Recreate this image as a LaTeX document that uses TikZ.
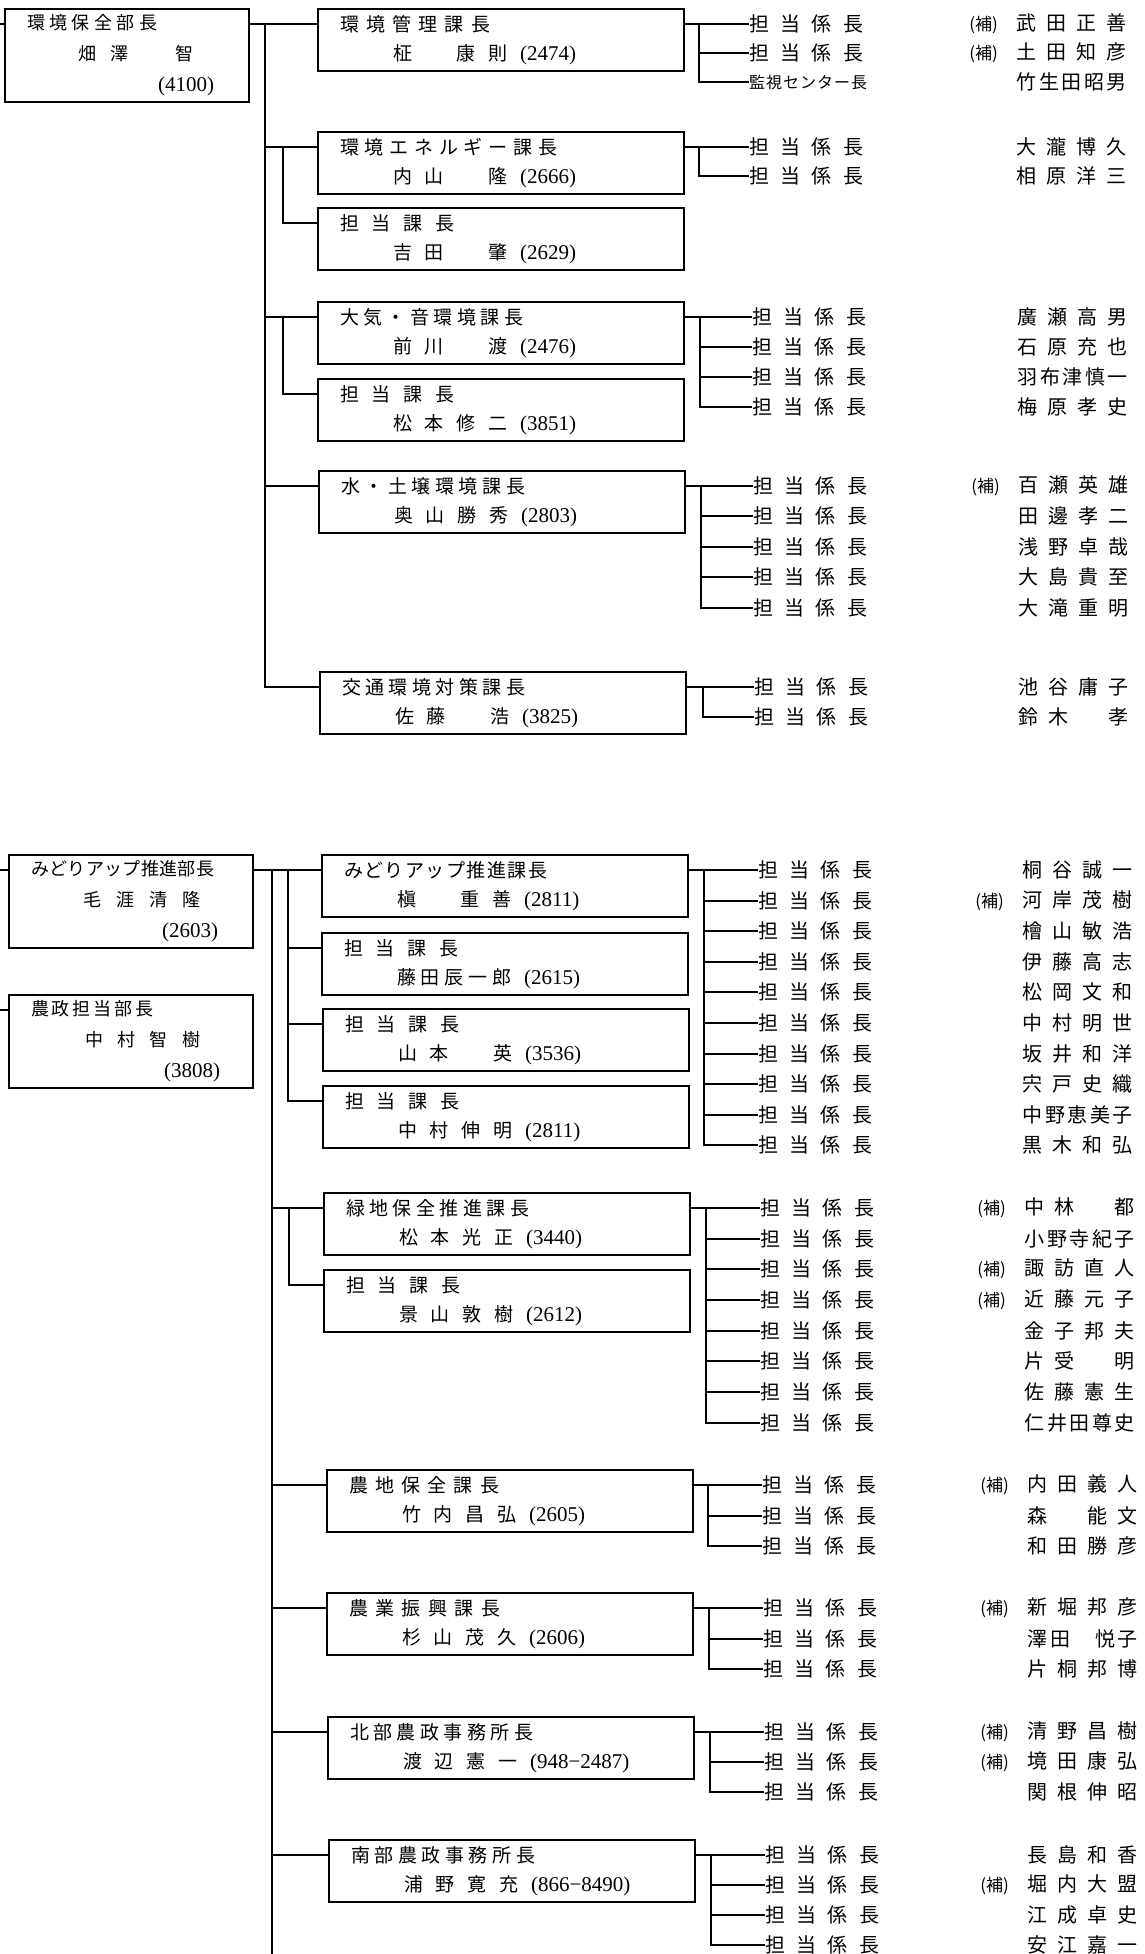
\documentclass[tikz,border=0pt]{standalone}
\usepackage{fontspec}
\setmainfont{Liberation Serif}
\newfontfamily\jp{Noto Sans CJK JP}

% spread the characters of #2 evenly over a box of width #1
\makeatletter
\def\spr@next#1{\ifx#1\relax\else\hfil#1\expandafter\spr@next\fi}
\def\spr@first#1{#1\spr@next}
\newcommand\spr[2]{\makebox[#1][s]{\spr@first#2\relax}}
\makeatother
\newcommand\tel[1]{{\rmfamily\fontsize{21}{29}\selectfont(#1)}}
\newcommand\ho{{\fontsize{17}{17}\selectfont(補)}\hspace{19pt}}
\newcommand\tanto{\spr{114pt}{担当係長}}
\newcommand\mei[1]{\spr{110pt}{#1}}

\tikzset{
  bucho/.style={draw, line width=2.2pt, anchor=north west, minimum width=244pt, minimum height=93pt, text width=200pt, inner xsep=22pt, inner ysep=0pt, align=left, font=\jp\fontsize{18}{31}\selectfont},
  kacho/.style={draw, line width=2.2pt, anchor=north west, minimum width=366pt, minimum height=62pt, text width=322pt, inner xsep=22pt, inner ysep=0pt, align=left, font=\jp\fontsize{19}{29}\selectfont},
  kakari/.style={anchor=west, inner sep=0pt, font=\jp\fontsize{20}{20}\selectfont},
  meibo/.style={anchor=east, inner sep=0pt, font=\jp\fontsize{20}{20}\selectfont},
  wire/.style={line width=1.8pt}
}

\begin{document}
\begin{tikzpicture}[x=1pt, y=-1pt]
  \useasboundingbox (0,0) rectangle (1144,1954);

  %% 環境保全部
  \node[bucho] (hozen) at (4,8) {\spr{130pt}{環境保全部長}\\\hspace*{51pt}\spr{115pt}{畑澤　智}\\\hspace*{131pt}\tel{4100}};
  \draw[wire] ([yshift=-16pt]hozen.north west) -- ++(-12,0);

  \node[kacho] (kanri) at (317,8) {\spr{150pt}{環境管理課長}\\\hspace*{53pt}\spr{114pt}{柾　康則}\hspace{13pt}\tel{2474}};
  \node[kacho] (ene) at (317,131) {\spr{217pt}{環境エネルギー課長}\\\hspace*{53pt}\spr{114pt}{内山　隆}\hspace{13pt}\tel{2666}};
  \node[kacho] (yoshida) at (317,207) {\spr{114pt}{担当課長}\\\hspace*{53pt}\spr{114pt}{吉田　肇}\hspace{13pt}\tel{2629}};
  \node[kacho] (taiki) at (317,301) {\spr{183pt}{大気・音環境課長}\\\hspace*{53pt}\spr{114pt}{前川　渡}\hspace{13pt}\tel{2476}};
  \node[kacho] (matsumoto) at (317,378) {\spr{114pt}{担当課長}\\\hspace*{53pt}\spr{114pt}{松本修二}\hspace{13pt}\tel{3851}};
  \node[kacho] (mizu) at (318,470) {\spr{184pt}{水・土壌環境課長}\\\hspace*{53pt}\spr{114pt}{奥山勝秀}\hspace{13pt}\tel{2803}};
  \node[kacho] (kotsu) at (319,671) {\spr{183pt}{交通環境対策課長}\\\hspace*{53pt}\spr{114pt}{佐藤　浩}\hspace{13pt}\tel{3825}};

  %% trunk and branches
  \coordinate (t1) at (265,24);
  \coordinate (s1) at (283,147);
  \coordinate (s2) at (283,317);
  \draw[wire] ([yshift=-16pt]hozen.north east) -- ([yshift=-16pt]kanri.north west);
  \draw[wire] ([yshift=-16pt]ene.north west) -| (t1);
  \draw[wire] ([yshift=-16pt]yoshida.north west) -| (s1);
  \draw[wire] ([yshift=-16pt]taiki.north west) -| (t1);
  \draw[wire] ([yshift=-16pt]matsumoto.north west) -| (s2);
  \draw[wire] ([yshift=-16pt]mizu.north west) -| (t1);
  \draw[wire] ([yshift=-16pt]kotsu.north west) -| (t1);

  %% 環境管理課
  \node[kakari] (kanri-1) at (749,24) {\tanto};
  \node[kakari] (kanri-2) at (749,53) {\tanto};
  \node[kakari] (kanri-3) at (749,82) {\fontsize{16}{16}\selectfont\spr{118pt}{監視センター長}};
  \node[meibo] (kanri-1n) at (1127,24) {\ho\mei{武田正善}};
  \node[meibo] (kanri-2n) at (1127,53) {\ho\mei{土田知彦}};
  \node[meibo] (kanri-3n) at (1127,82) {\mei{竹生田昭男}};
  \coordinate (kanri-v) at (699,24);
  \draw[wire] ([yshift=-16pt]kanri.north east) -- (kanri-1.west);
  \draw[wire] (kanri-v) |- (kanri-2.west);
  \draw[wire] (kanri-v) |- (kanri-3.west);

  %% 環境エネルギー課
  \node[kakari] (ene-1) at (749,147) {\tanto};
  \node[kakari] (ene-2) at (749,176) {\tanto};
  \node[meibo] (ene-1n) at (1127,147) {\mei{大瀧博久}};
  \node[meibo] (ene-2n) at (1127,176) {\mei{相原洋三}};
  \coordinate (ene-v) at (699,147);
  \draw[wire] ([yshift=-16pt]ene.north east) -- (ene-1.west);
  \draw[wire] (ene-v) |- (ene-2.west);

  %% 大気・音環境課
  \node[kakari] (taiki-1) at (752,317) {\tanto};
  \node[kakari] (taiki-2) at (752,347) {\tanto};
  \node[kakari] (taiki-3) at (752,377) {\tanto};
  \node[kakari] (taiki-4) at (752,407) {\tanto};
  \node[meibo] (taiki-1n) at (1128,317) {\mei{廣瀬高男}};
  \node[meibo] (taiki-2n) at (1128,347) {\mei{石原充也}};
  \node[meibo] (taiki-3n) at (1128,377) {\mei{羽布津慎一}};
  \node[meibo] (taiki-4n) at (1128,407) {\mei{梅原孝史}};
  \coordinate (taiki-v) at (700,317);
  \draw[wire] ([yshift=-16pt]taiki.north east) -- (taiki-1.west);
  \draw[wire] (taiki-v) |- (taiki-2.west);
  \draw[wire] (taiki-v) |- (taiki-3.west);
  \draw[wire] (taiki-v) |- (taiki-4.west);

  %% 水・土壌環境課
  \node[kakari] (mizu-1) at (753,486) {\tanto};
  \node[kakari] (mizu-2) at (753,516) {\tanto};
  \node[kakari] (mizu-3) at (753,547) {\tanto};
  \node[kakari] (mizu-4) at (753,577) {\tanto};
  \node[kakari] (mizu-5) at (753,608) {\tanto};
  \node[meibo] (mizu-1n) at (1129,486) {\ho\mei{百瀬英雄}};
  \node[meibo] (mizu-2n) at (1129,516) {\mei{田邊孝二}};
  \node[meibo] (mizu-3n) at (1129,547) {\mei{浅野卓哉}};
  \node[meibo] (mizu-4n) at (1129,577) {\mei{大島貴至}};
  \node[meibo] (mizu-5n) at (1129,608) {\mei{大滝重明}};
  \coordinate (mizu-v) at (701,486);
  \draw[wire] ([yshift=-16pt]mizu.north east) -- (mizu-1.west);
  \draw[wire] (mizu-v) |- (mizu-2.west);
  \draw[wire] (mizu-v) |- (mizu-3.west);
  \draw[wire] (mizu-v) |- (mizu-4.west);
  \draw[wire] (mizu-v) |- (mizu-5.west);

  %% 交通環境対策課
  \node[kakari] (kotsu-1) at (754,687) {\tanto};
  \node[kakari] (kotsu-2) at (754,717) {\tanto};
  \node[meibo] (kotsu-1n) at (1129,687) {\mei{池谷庸子}};
  \node[meibo] (kotsu-2n) at (1129,717) {\mei{鈴木　孝}};
  \coordinate (kotsu-v) at (703,687);
  \draw[wire] ([yshift=-16pt]kotsu.north east) -- (kotsu-1.west);
  \draw[wire] (kotsu-v) |- (kotsu-2.west);

  %% みどりアップ推進部 / 農政担当部
  \node[bucho] (midori-bu) at (8,854) {\spr{183pt}{みどりアップ推進部長}\\\hspace*{52pt}\spr{117pt}{毛涯清隆}\\\hspace*{131pt}\tel{2603}};
  \node[bucho] (nosei-bu) at (8,994) {\spr{122pt}{農政担当部長}\\\hspace*{54pt}\spr{115pt}{中村智樹}\\\hspace*{133pt}\tel{3808}};
  \draw[wire] ([yshift=-16pt]midori-bu.north west) -- ++(-12,0);
  \draw[wire] ([yshift=-16pt]nosei-bu.north west) -- ++(-12,0);

  \node[kacho] (midori) at (321,854) {\spr{203pt}{みどりアップ推進課長}\\\hspace*{53pt}\spr{114pt}{槇　重善}\hspace{13pt}\tel{2811}};
  \node[kacho] (fujita) at (321,932) {\spr{114pt}{担当課長}\\\hspace*{53pt}\spr{114pt}{藤田辰一郎}\hspace{13pt}\tel{2615}};
  \node[kacho] (yamamoto) at (322,1008) {\spr{114pt}{担当課長}\\\hspace*{53pt}\spr{114pt}{山本　英}\hspace{13pt}\tel{3536}};
  \node[kacho] (nakamura) at (322,1085) {\spr{114pt}{担当課長}\\\hspace*{53pt}\spr{114pt}{中村伸明}\hspace{13pt}\tel{2811}};
  \node[kacho] (ryokuchi) at (323,1192) {\spr{183pt}{緑地保全推進課長}\\\hspace*{53pt}\spr{114pt}{松本光正}\hspace{13pt}\tel{3440}};
  \node[kacho] (kageyama) at (323,1269) {\spr{114pt}{担当課長}\\\hspace*{53pt}\spr{114pt}{景山敦樹}\hspace{13pt}\tel{2612}};
  \node[kacho] (nochi) at (326,1469) {\spr{150pt}{農地保全課長}\\\hspace*{53pt}\spr{114pt}{竹内昌弘}\hspace{13pt}\tel{2605}};
  \node[kacho] (shinko) at (326,1592) {\spr{151pt}{農業振興課長}\\\hspace*{53pt}\spr{114pt}{杉山茂久}\hspace{13pt}\tel{2606}};
  \node[kacho] (hokubu) at (327,1716) {\spr{183pt}{北部農政事務所長}\\\hspace*{53pt}\spr{114pt}{渡辺憲一}\hspace{13pt}\tel{948−2487}};
  \node[kacho] (nanbu) at (328,1839) {\spr{184pt}{南部農政事務所長}\\\hspace*{53pt}\spr{114pt}{浦野寛充}\hspace{13pt}\tel{866−8490}};

  %% trunk and branches
  \coordinate (t2) at (272,870);
  \coordinate (t2-end) at (272,1960);
  \coordinate (u1) at (288,870);
  \coordinate (u2) at (289,1208);
  \draw[wire] ([yshift=-16pt]midori-bu.north east) -- ([yshift=-16pt]midori.north west);
  \draw[wire] (t2) -- (t2-end);
  \draw[wire] ([yshift=-16pt]fujita.north west) -| (u1);
  \draw[wire] ([yshift=-16pt]yamamoto.north west) -| (u1);
  \draw[wire] ([yshift=-16pt]nakamura.north west) -| (u1);
  \draw[wire] ([yshift=-16pt]ryokuchi.north west) -| (t2);
  \draw[wire] ([yshift=-16pt]kageyama.north west) -| (u2);
  \draw[wire] ([yshift=-16pt]nochi.north west) -| (t2);
  \draw[wire] ([yshift=-16pt]shinko.north west) -| (t2);
  \draw[wire] ([yshift=-16pt]hokubu.north west) -| (t2);
  \draw[wire] ([yshift=-16pt]nanbu.north west) -| (t2);

  %% みどりアップ推進課
  \node[kakari] (midori-1) at (758,870) {\tanto};
  \node[kakari] (midori-2) at (758,901) {\tanto};
  \node[kakari] (midori-3) at (758,931) {\tanto};
  \node[kakari] (midori-4) at (758,962) {\tanto};
  \node[kakari] (midori-5) at (758,992) {\tanto};
  \node[kakari] (midori-6) at (758,1023) {\tanto};
  \node[kakari] (midori-7) at (758,1054) {\tanto};
  \node[kakari] (midori-8) at (758,1084) {\tanto};
  \node[kakari] (midori-9) at (758,1115) {\tanto};
  \node[kakari] (midori-10) at (758,1145) {\tanto};
  \node[meibo] (midori-1n) at (1133,870) {\mei{桐谷誠一}};
  \node[meibo] (midori-2n) at (1133,901) {\ho\mei{河岸茂樹}};
  \node[meibo] (midori-3n) at (1133,931) {\mei{檜山敏浩}};
  \node[meibo] (midori-4n) at (1133,962) {\mei{伊藤高志}};
  \node[meibo] (midori-5n) at (1133,992) {\mei{松岡文和}};
  \node[meibo] (midori-6n) at (1133,1023) {\mei{中村明世}};
  \node[meibo] (midori-7n) at (1133,1054) {\mei{坂井和洋}};
  \node[meibo] (midori-8n) at (1133,1084) {\mei{宍戸史織}};
  \node[meibo] (midori-9n) at (1133,1115) {\mei{中野恵美子}};
  \node[meibo] (midori-10n) at (1133,1145) {\mei{黒木和弘}};
  \coordinate (midori-v) at (704,870);
  \draw[wire] ([yshift=-16pt]midori.north east) -- (midori-1.west);
  \draw[wire] (midori-v) |- (midori-2.west);
  \draw[wire] (midori-v) |- (midori-3.west);
  \draw[wire] (midori-v) |- (midori-4.west);
  \draw[wire] (midori-v) |- (midori-5.west);
  \draw[wire] (midori-v) |- (midori-6.west);
  \draw[wire] (midori-v) |- (midori-7.west);
  \draw[wire] (midori-v) |- (midori-8.west);
  \draw[wire] (midori-v) |- (midori-9.west);
  \draw[wire] (midori-v) |- (midori-10.west);

  %% 緑地保全推進課
  \node[kakari] (ryokuchi-1) at (760,1208) {\tanto};
  \node[kakari] (ryokuchi-2) at (760,1239) {\tanto};
  \node[kakari] (ryokuchi-3) at (760,1269) {\tanto};
  \node[kakari] (ryokuchi-4) at (760,1300) {\tanto};
  \node[kakari] (ryokuchi-5) at (760,1331) {\tanto};
  \node[kakari] (ryokuchi-6) at (760,1361) {\tanto};
  \node[kakari] (ryokuchi-7) at (760,1392) {\tanto};
  \node[kakari] (ryokuchi-8) at (760,1423) {\tanto};
  \node[meibo] (ryokuchi-1n) at (1135,1208) {\ho\mei{中林　都}};
  \node[meibo] (ryokuchi-2n) at (1135,1239) {\mei{小野寺紀子}};
  \node[meibo] (ryokuchi-3n) at (1135,1269) {\ho\mei{諏訪直人}};
  \node[meibo] (ryokuchi-4n) at (1135,1300) {\ho\mei{近藤元子}};
  \node[meibo] (ryokuchi-5n) at (1135,1331) {\mei{金子邦夫}};
  \node[meibo] (ryokuchi-6n) at (1135,1361) {\mei{片受　明}};
  \node[meibo] (ryokuchi-7n) at (1135,1392) {\mei{佐藤憲生}};
  \node[meibo] (ryokuchi-8n) at (1135,1423) {\mei{仁井田尊史}};
  \coordinate (ryokuchi-v) at (706,1208);
  \draw[wire] ([yshift=-16pt]ryokuchi.north east) -- (ryokuchi-1.west);
  \draw[wire] (ryokuchi-v) |- (ryokuchi-2.west);
  \draw[wire] (ryokuchi-v) |- (ryokuchi-3.west);
  \draw[wire] (ryokuchi-v) |- (ryokuchi-4.west);
  \draw[wire] (ryokuchi-v) |- (ryokuchi-5.west);
  \draw[wire] (ryokuchi-v) |- (ryokuchi-6.west);
  \draw[wire] (ryokuchi-v) |- (ryokuchi-7.west);
  \draw[wire] (ryokuchi-v) |- (ryokuchi-8.west);

  %% 農地保全課
  \node[kakari] (nochi-1) at (762,1485) {\tanto};
  \node[kakari] (nochi-2) at (762,1516) {\tanto};
  \node[kakari] (nochi-3) at (762,1546) {\tanto};
  \node[meibo] (nochi-1n) at (1138,1485) {\ho\mei{内田義人}};
  \node[meibo] (nochi-2n) at (1138,1516) {\mei{森　能文}};
  \node[meibo] (nochi-3n) at (1138,1546) {\mei{和田勝彦}};
  \coordinate (nochi-v) at (708,1485);
  \draw[wire] ([yshift=-16pt]nochi.north east) -- (nochi-1.west);
  \draw[wire] (nochi-v) |- (nochi-2.west);
  \draw[wire] (nochi-v) |- (nochi-3.west);

  %% 農業振興課
  \node[kakari] (shinko-1) at (763,1608) {\tanto};
  \node[kakari] (shinko-2) at (763,1639) {\tanto};
  \node[kakari] (shinko-3) at (763,1669) {\tanto};
  \node[meibo] (shinko-1n) at (1138,1608) {\ho\mei{新堀邦彦}};
  \node[meibo] (shinko-2n) at (1138,1639) {\mei{澤田　悦子}};
  \node[meibo] (shinko-3n) at (1138,1669) {\mei{片桐邦博}};
  \coordinate (shinko-v) at (709,1608);
  \draw[wire] ([yshift=-16pt]shinko.north east) -- (shinko-1.west);
  \draw[wire] (shinko-v) |- (shinko-2.west);
  \draw[wire] (shinko-v) |- (shinko-3.west);

  %% 北部農政事務所
  \node[kakari] (hokubu-1) at (764,1732) {\tanto};
  \node[kakari] (hokubu-2) at (764,1762) {\tanto};
  \node[kakari] (hokubu-3) at (764,1792) {\tanto};
  \node[meibo] (hokubu-1n) at (1138,1732) {\ho\mei{清野昌樹}};
  \node[meibo] (hokubu-2n) at (1138,1762) {\ho\mei{境田康弘}};
  \node[meibo] (hokubu-3n) at (1138,1792) {\mei{関根伸昭}};
  \coordinate (hokubu-v) at (710,1732);
  \draw[wire] ([yshift=-16pt]hokubu.north east) -- (hokubu-1.west);
  \draw[wire] (hokubu-v) |- (hokubu-2.west);
  \draw[wire] (hokubu-v) |- (hokubu-3.west);

  %% 南部農政事務所
  \node[kakari] (nanbu-1) at (765,1855) {\tanto};
  \node[kakari] (nanbu-2) at (765,1885) {\tanto};
  \node[kakari] (nanbu-3) at (765,1915) {\tanto};
  \node[kakari] (nanbu-4) at (765,1945) {\tanto};
  \node[meibo] (nanbu-1n) at (1138,1855) {\mei{長島和香}};
  \node[meibo] (nanbu-2n) at (1138,1885) {\ho\mei{堀内大盟}};
  \node[meibo] (nanbu-3n) at (1138,1915) {\mei{江成卓史}};
  \node[meibo] (nanbu-4n) at (1138,1945) {\mei{安江嘉一}};
  \coordinate (nanbu-v) at (711,1855);
  \draw[wire] ([yshift=-16pt]nanbu.north east) -- (nanbu-1.west);
  \draw[wire] (nanbu-v) |- (nanbu-2.west);
  \draw[wire] (nanbu-v) |- (nanbu-3.west);
  \draw[wire] (nanbu-v) |- (nanbu-4.west);
\end{tikzpicture}
\end{document}
